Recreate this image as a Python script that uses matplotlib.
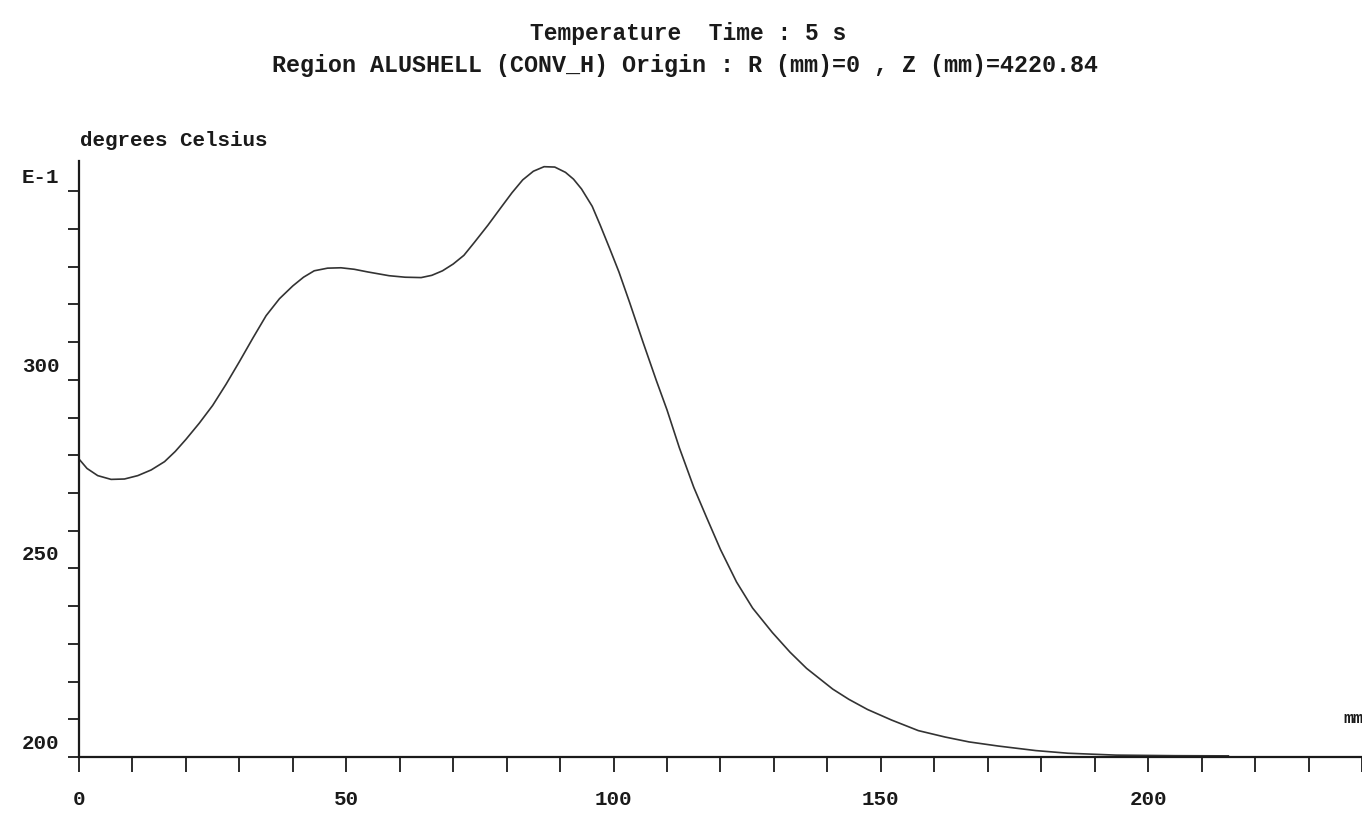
import matplotlib
matplotlib.use("Agg")
import matplotlib.pyplot as plt
import matplotlib.transforms as mtransforms

# ── Temperature profile along the shell ──
x_mm = [0, 1.5, 3.5, 6, 8.5, 11, 13.5, 16, 18, 20, 22.5, 25, 27.5, 30,
        32.5, 35, 37.5, 40, 42, 44, 46.5, 49, 51.5, 54, 58, 61, 64, 66,
        68, 70, 72, 74, 76.5, 79, 81, 83, 85, 87, 89, 91, 92.5, 94, 96,
        97.5, 99.3, 101, 103, 105.5, 108, 110, 112.3, 115, 117.4, 120,
        123, 126, 129.7, 133, 136.1, 141, 144, 147.5, 152, 157, 162,
        166.5, 172, 179, 185, 194, 205, 215]
temp_c = [279.0, 276.5, 274.6, 273.6, 273.7, 274.6, 276.1, 278.3, 281.0,
          284.2, 288.5, 293.2, 298.8, 304.8, 311.0, 317.0, 321.5, 324.9,
          327.2, 328.9, 329.6, 329.7, 329.3, 328.6, 327.6, 327.2, 327.1,
          327.7, 328.9, 330.7, 333.0, 336.5, 341.0, 345.8, 349.6, 353.0,
          355.3, 356.5, 356.4, 355.0, 353.2, 350.6, 346.0, 341.0, 334.7,
          328.6, 320.5, 310.0, 299.8, 292.0, 282.0, 271.5, 263.5, 255.0,
          246.4, 239.5, 233.0, 227.8, 223.5, 218.0, 215.3, 212.6, 209.8,
          207.0, 205.3, 204.0, 202.9, 201.7, 201.0, 200.5, 200.35, 200.3]

x_ticks = list(range(0, 241, 10))
x_labels = {0: "0", 50: "50", 100: "100", 150: "150", 200: "200"}
y_ticks = list(range(200, 351, 10))
y_labels = {200: "200", 250: "250", 300: "300", 350: "E-1"}

title_1 = "Temperature  Time : 5 s"
title_2 = "Region ALUSHELL (CONV_H) Origin : R (mm)=0 , Z (mm)=4220.84"

FONT = "Liberation Mono"
ink = "#1a1a1a"

fig = plt.figure(figsize=(13.62, 8.2), dpi=100)
ax = fig.add_axes([0.058, 0.0756, 0.942, 0.7268])

ax.plot(x_mm, temp_c, color="#333333", lw=1.2)

ax.set_xlim(0, 240)
ax.set_ylim(200, 358)

# only the left and bottom axis lines, like the old plotter output
for side in ("top", "right"):
    ax.spines[side].set_visible(False)
for side in ("left", "bottom"):
    ax.spines[side].set_linewidth(1.6)
    ax.spines[side].set_color(ink)

ax.set_xticks(x_ticks)
ax.set_xticklabels([x_labels.get(t, "") for t in x_ticks])
ax.set_yticks(y_ticks)
ax.set_yticklabels([y_labels.get(t, "") for t in y_ticks])
ax.tick_params(axis="x", direction="out", length=11, width=1.3, pad=12,
               colors=ink, labelsize=15)
ax.tick_params(axis="y", direction="out", length=8, width=1.3, pad=6,
               colors=ink, labelsize=15)
for lab in ax.get_xticklabels() + ax.get_yticklabels():
    lab.set_family(FONT)
    lab.set_fontweight("bold")

# y labels sit a bit above their ticks on the original
shift = mtransforms.ScaledTranslation(0, 12 / 72, fig.dpi_scale_trans)
for lab in ax.get_yticklabels():
    lab.set_transform(lab.get_transform() + shift)

fig.text(0.059, 0.822, "degrees Celsius", family=FONT, fontweight="bold",
         fontsize=15, color=ink, ha="left", va="baseline")
fig.text(0.986, 0.118, "mm", family=FONT, fontweight="bold",
         fontsize=12, color=ink, ha="left", va="baseline")

fig.text(0.505, 0.951, title_1, family=FONT, fontweight="bold",
         fontsize=16.5, color=ink, ha="center", va="baseline")
fig.text(0.503, 0.912, title_2, family=FONT, fontweight="bold",
         fontsize=16.8, color=ink, ha="center", va="baseline")

fig.savefig("out.png", dpi=100, facecolor="white")
